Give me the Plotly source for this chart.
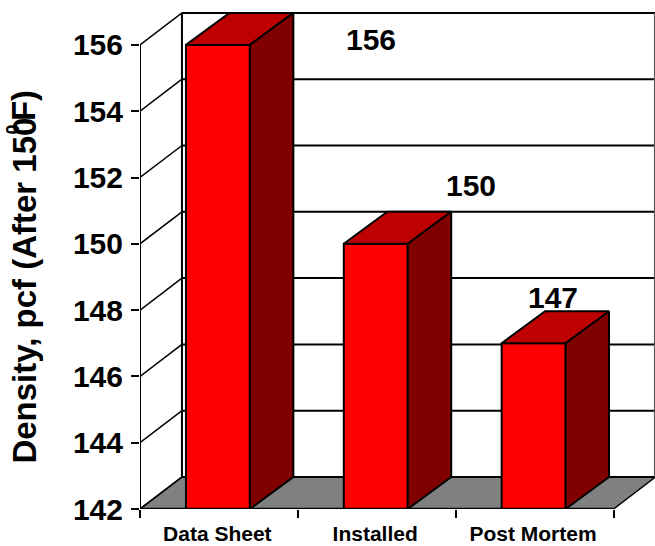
import plotly.graph_objects as go

categories = ["Data Sheet", "Installed", "Post Mortem"]
density = [156, 150, 147]
value_labels = ["156", "150", "147"]
y_ticks = [142, 144, 146, 148, 150, 152, 154, 156]

W, H = 655, 546
PX_X, PX_Y = 158.0, 33.15      # pixels per category, pixels per pcf
LEFT = 139.5
BOTTOM_PX = 509
FONT = "Liberation Sans"
BLACK = "#000000"

y0 = y_ticks[0]
xl, xr = -0.5, 2.5
wall_dx, wall_dy = 42 / PX_X, 32 / PX_Y
bar_dx, bar_dy = 43.5 / PX_X, 32 / PX_Y
bar_w = 64 / PX_X
bar_off = -33 / PX_X
xmax = xl + (W - LEFT) / PX_X
ytop = y0 + BOTTOM_PX / PX_Y


def seg(x0, y_0, x1, y_1, width=2, color=BLACK):
    return dict(type="line", xref="x", yref="y", x0=x0, y0=y_0, x1=x1, y1=y_1,
                layer="below", line=dict(color=color, width=width))


shapes = [dict(type="path", xref="x", yref="y", layer="below",
               path=f"M{xl},{y0} L{xl + wall_dx},{y0 + wall_dy} L{xr + wall_dx},{y0 + wall_dy} L{xr},{y0} Z",
               fillcolor="#808080", line=dict(color=BLACK, width=1.5))]
for t in y_ticks:
    shapes.append(seg(xl, t, xl + wall_dx, t + wall_dy, 1.5))
    shapes.append(seg(xl + wall_dx, t + wall_dy, xmax, t + wall_dy, 2))
shapes.append(seg(xl + wall_dx, y0 + wall_dy, xl + wall_dx, y_ticks[-1] + wall_dy, 2))
shapes.append(seg(xmax - 0.002, y0 + wall_dy, xmax - 0.002, y_ticks[-1] + wall_dy, 1.5, "#555555"))

fig = go.Figure()
fig.add_trace(go.Bar(x=[0, 1, 2], y=density, width=bar_w, offset=bar_off,
                     marker=dict(color="#FF0000", line=dict(color=BLACK, width=2)),
                     showlegend=False, hoverinfo="skip"))

for i, v in enumerate(density):
    a = i + bar_off
    b = a + bar_w
    fig.add_trace(go.Scatter(
        x=[a, a + bar_dx, b + bar_dx, b, a], y=[v, v + bar_dy, v + bar_dy, v, v],
        mode="lines", fill="toself", fillcolor="#BF0000",
        line=dict(color=BLACK, width=2), showlegend=False, hoverinfo="skip"))
    fig.add_trace(go.Scatter(
        x=[b, b + bar_dx, b + bar_dx, b, b], y=[v, v + bar_dy, y0 + bar_dy, y0, v],
        mode="lines", fill="toself", fillcolor="#800000",
        line=dict(color=BLACK, width=2), showlegend=False, hoverinfo="skip"))

fig.add_trace(go.Scatter(x=[xl, xr], y=[y0, y0], mode="lines", cliponaxis=False,
                         line=dict(color=BLACK, width=2.5), showlegend=False, hoverinfo="skip"))
fig.add_trace(go.Scatter(x=[xl, xl], y=[y0, y_ticks[-1]], mode="lines", cliponaxis=False,
                         line=dict(color=BLACK, width=2), showlegend=False, hoverinfo="skip"))

annotations = []
label_pos = [(0.965, 156.15), (1.595, 151.76), (2.114, 148.39)]
for txt, (lx, ly) in zip(value_labels, label_pos):
    annotations.append(dict(x=lx, y=ly, xref="x", yref="y", text=f"<b>{txt}</b>", showarrow=False,
                            xanchor="center", yanchor="middle",
                            font=dict(family=FONT, size=30, color=BLACK)))


def paper_x(px):
    return (px - LEFT) / (W - LEFT)


def paper_y(py):
    return (BOTTOM_PX - py) / BOTTOM_PX


title_parts = [
    ("Density, pcf (After 150", 33, 23, 466),
    ("0", 18, 12, 137),
    ("F)", 33, 23, 123),
]
for txt, size, cx, bottom in title_parts:
    annotations.append(dict(x=paper_x(cx), y=paper_y(bottom), xref="paper", yref="paper",
                            text=f"<b>{txt}</b>", showarrow=False, textangle=-90,
                            xanchor="center", yanchor="bottom",
                            font=dict(family=FONT, size=size, color=BLACK)))

fig.update_layout(
    width=W, height=H, autosize=False,
    margin=dict(l=LEFT, r=0, t=0, b=37, pad=0),
    paper_bgcolor="white", plot_bgcolor="white",
    showlegend=False, shapes=shapes, annotations=annotations,
    xaxis=dict(range=[xl, xmax], showgrid=False, zeroline=False, showline=False, automargin=False,
               tickmode="array", tickvals=[-0.01, 0.99, 1.99], ticktext=[f"<b>{c}</b>" for c in categories],
               ticks="", ticklabelstandoff=10, tickfont=dict(family=FONT, size=21, color=BLACK),
               minor=dict(tickmode="array", tickvals=[-0.5, 0.5, 1.5, 2.5], ticks="outside",
                          ticklen=8, tickwidth=2, tickcolor=BLACK)),
    yaxis=dict(range=[y0, ytop], showgrid=False, zeroline=False, showline=False, automargin=False,
               tickmode="array", tickvals=y_ticks, ticktext=[f"<b>{t}</b>" for t in y_ticks],
               ticks="outside", ticklen=8, tickwidth=2, tickcolor=BLACK,
               ticklabelstandoff=2,
               tickfont=dict(family=FONT, size=30, color=BLACK)),
)
fig.write_html("out.html", config={"displayModeBar": False},
               post_script="document.body.style.margin='0';")
